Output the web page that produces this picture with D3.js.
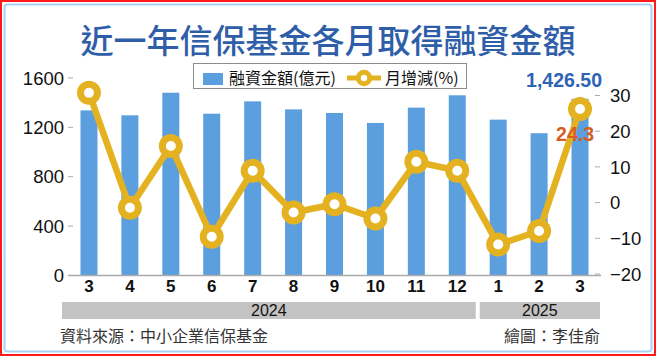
<!DOCTYPE html>
<html><head><meta charset="utf-8">
<script src="https://cdn.jsdelivr.net/npm/d3@7/dist/d3.min.js"></script>
<style>
html,body{margin:0;padding:0;background:#fff;}
svg{display:block;}
</style></head>
<body>
<svg id="chart" width="656" height="356"></svg>
<script>
// ---- data ----
const months = ["3","4","5","6","7","8","9","10","11","12","1","2","3"];
const years = [{label:"2024", from:0, to:9},{label:"2025", from:10, to:12}];
const financing = [1333, 1293, 1476, 1306, 1406, 1341, 1312, 1231, 1355, 1455, 1258, 1148, 1426.5];
const monthlyChange = [30.6, -1.6, 15.7, -9.7, 8.8, -2.9, -0.6, -4.6, 11.3, 8.8, -11.9, -8.1, 26.1];
const leftTicks = [0, 400, 800, 1200, 1600];
const rightTicks = [-20, -10, 0, 10, 20, 30];
const lastBarLabel = "1,426.50";
const lastLineLabel = "24.3";
const title = "近一年信保基金各月取得融資金額";
const legendBar = "融資金額(億元)";
const legendLine = "月增減(%)";
const source = "資料來源：中小企業信保基金";
const credit = "繪圖：李佳俞";

// ---- styles ----
const BLUE = "#5b9fdf", GOLD = "#e4b220", TITLE = "#2f5ea9";
const FONT = "'Noto Sans CJK TC','Noto Sans',sans-serif";
const NUMFONT = "'Liberation Sans',Arial,sans-serif";

const svg = d3.select("#chart");

// frame
svg.append("rect").attr("x",1).attr("y",1).attr("width",654).attr("height",354)
  .attr("fill","#fff").attr("stroke","#ff1a1a").attr("stroke-width",2);
svg.append("rect").attr("x",4.5).attr("y",4.5).attr("width",647).attr("height",347).attr("rx",3)
  .attr("fill","none").attr("stroke","#a8d4f4").attr("stroke-width",2);

// title
svg.append("text").attr("x",328).attr("y",53).attr("text-anchor","middle")
  .attr("font-family",FONT).attr("font-weight",500).attr("font-size",33)
  .attr("fill",TITLE).text(title);

// scales
const x = d3.scaleBand().domain(d3.range(months.length)).range([68,601])
  .paddingInner(0.5845).paddingOuter(0.305);
const yL = d3.scaleLinear().domain([0,1600]).range([275,77.4]);
const yR = d3.scaleLinear().domain([-20,30]).range([273.5,95]);

// bars
svg.append("g").selectAll("rect").data(financing).join("rect")
  .attr("x",(d,i)=>x(i)).attr("width",x.bandwidth())
  .attr("y",d=>yL(d)).attr("height",d=>yL(0)-yL(d))
  .attr("fill",BLUE);

// left axis
const axL = d3.axisLeft(yL).tickValues(leftTicks).tickSize(5).tickPadding(4).tickFormat(d3.format("d"));
const gL = svg.append("g").attr("transform","translate(73,0)").call(axL);
gL.select(".domain").remove();
gL.selectAll(".tick line").attr("stroke","#aaa");
gL.selectAll(".tick text").attr("font-family",NUMFONT).attr("font-size",18.5).attr("fill","#111").attr("dy","0.36em");

// right axis
const axR = d3.axisRight(yR).tickValues(rightTicks).tickSize(5).tickPadding(10).tickFormat(d3.format("d"));
const gR = svg.append("g").attr("transform","translate(595,0)").call(axR);
gR.select(".domain").remove();
gR.selectAll(".tick line").attr("stroke","#aaa");
gR.selectAll(".tick text").attr("font-family",NUMFONT).attr("font-size",18.5).attr("fill","#111").attr("dy","0.36em");

// baseline
svg.append("line").attr("x1",68).attr("x2",601).attr("y1",yL(0)+0.5).attr("y2",yL(0)+0.5)
  .attr("stroke","#aaa").attr("stroke-width",1.5);

// month labels
const xAxis = d3.axisBottom(x).tickSize(0).tickPadding(0).tickFormat(i=>months[i]);
const gX = svg.append("g").attr("transform","translate(0,280)").call(xAxis);
gX.select(".domain").remove();
gX.selectAll(".tick text").attr("font-family",NUMFONT).attr("font-weight",700)
  .attr("font-size",17).attr("fill","#111").attr("dy","0.71em");

// year bands
const bandEdge = (i)=> x(i) + x.bandwidth()/2;
const half = x.step()/2;
years.forEach((yObj,k)=>{
  const x0 = k===0 ? 62 : bandEdge(yObj.from)-half+2;
  const x1 = k===years.length-1 ? 600 : bandEdge(yObj.to)+half-2;
  svg.append("rect").attr("x",x0).attr("y",302).attr("width",x1-x0).attr("height",17).attr("fill","#c3c3c3");
  svg.append("text").attr("x",(x0+x1)/2).attr("y",316).attr("text-anchor","middle")
    .attr("font-family",NUMFONT).attr("font-size",16).attr("fill","#111").text(yObj.label);
});

// line
const line = d3.line().x((d,i)=>bandEdge(i)).y(d=>yR(d));
svg.append("path").datum(monthlyChange).attr("d",line)
  .attr("fill","none").attr("stroke",GOLD).attr("stroke-width",6.5).attr("stroke-linejoin","round");
svg.append("g").selectAll("circle").data(monthlyChange).join("circle")
  .attr("cx",(d,i)=>bandEdge(i)).attr("cy",d=>yR(d)).attr("r",8.5)
  .attr("fill","#fff").attr("stroke",GOLD).attr("stroke-width",7);

// annotations
const li = financing.length-1;
svg.append("text").attr("x",602).attr("y",87).attr("text-anchor","end")
  .attr("font-family",NUMFONT).attr("font-weight",700).attr("font-size",19.5)
  .attr("fill","#2f63b4").text(lastBarLabel);
svg.append("text").attr("x",bandEdge(li)+14).attr("y",141).attr("text-anchor","end")
  .attr("font-family",NUMFONT).attr("font-weight",700).attr("font-size",19.5)
  .attr("fill","#d55e26").text(lastLineLabel);

// legend
const lg = svg.append("g");
lg.append("rect").attr("x",193.5).attr("y",63.5).attr("width",273).attr("height",25)
  .attr("fill","#fff").attr("stroke","#8c8c8c").attr("stroke-width",1);
lg.append("rect").attr("x",203).attr("y",73).attr("width",20).attr("height",12).attr("fill",BLUE);
lg.append("text").attr("x",229).attr("y",83.5).attr("font-family",FONT).attr("font-size",16)
  .attr("fill","#111").text(legendBar);
lg.append("line").attr("x1",347).attr("x2",381).attr("y1",78).attr("y2",78)
  .attr("stroke",GOLD).attr("stroke-width",5);
lg.append("circle").attr("cx",364).attr("cy",78).attr("r",5.7).attr("fill","#fff")
  .attr("stroke",GOLD).attr("stroke-width",5);
lg.append("text").attr("x",385).attr("y",83.5).attr("font-family",FONT).attr("font-size",16)
  .attr("fill","#111").text(legendLine);

// footer
svg.append("text").attr("x",60).attr("y",342).attr("font-family",FONT).attr("font-size",16)
  .attr("fill","#333").text(source);
svg.append("text").attr("x",600).attr("y",342).attr("text-anchor","end").attr("font-family",FONT).attr("font-size",16)
  .attr("fill","#333").text(credit);
</script>
</body></html>
